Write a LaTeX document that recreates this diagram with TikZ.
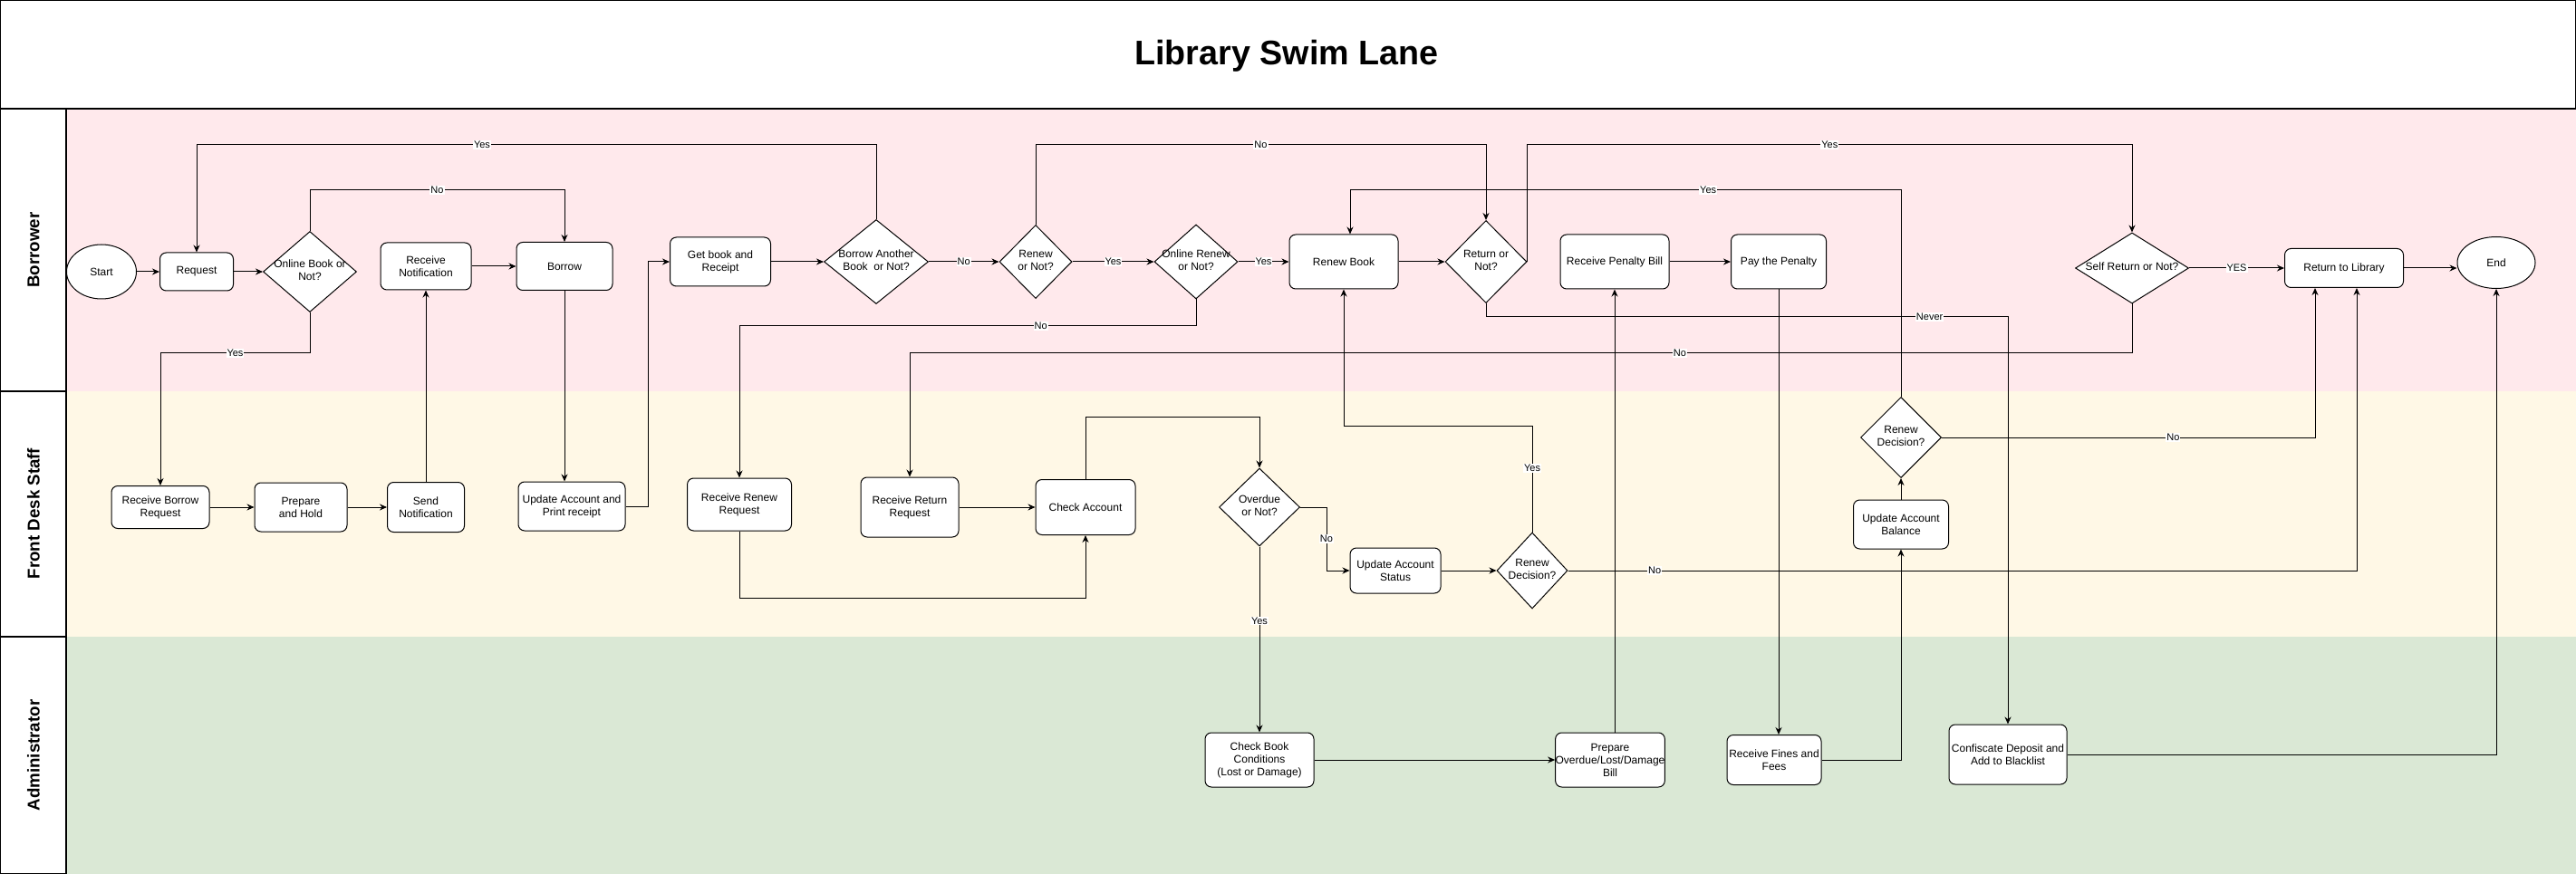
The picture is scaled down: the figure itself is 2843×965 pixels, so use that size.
\documentclass[tikz,border=0pt]{standalone}
\usepackage{fontspec}
\setmainfont{Liberation Sans}
\usepackage{tikz}
\usetikzlibrary{shapes.geometric, arrows.meta}
\definecolor{borrowbg}{HTML}{FFE9EC}
\definecolor{deskbg}{HTML}{FFF8E6}
\definecolor{adminbg}{HTML}{DAE8D5}
% text inside a diamond may run over its edges
\newcommand{\dtxt}[1]{\makebox[0pt]{\smash{\raisebox{-3pt}{\begin{tabular}{@{}c@{}}#1\end{tabular}}}}}

\begin{document}
\begin{tikzpicture}[x=1pt, y=-1pt,
  sz/.style 2 args={minimum width=#1pt, minimum height=#2pt},
  proc/.style={draw, rounded corners=7pt, fill=white, line width=1pt, inner sep=0pt, align=center, font=\fontsize{12}{14}\selectfont},
  decision/.style={draw, diamond, fill=white, line width=1pt, inner sep=0pt, font=\fontsize{12}{14}\selectfont},
  term/.style={draw, ellipse, fill=white, line width=1pt, inner sep=0pt, font=\fontsize{12}{14}\selectfont},
  arr/.style={line width=1pt, -{Stealth[length=8pt,width=7pt]}},
  lbl/.style={fill=white, inner sep=1pt, font=\fontsize{11}{13}\selectfont},
  lanehead/.style={rotate=90, font=\fontsize{18.7}{22}\selectfont\bfseries}]
\useasboundingbox (0,0) rectangle (2843,965);

% lanes
\fill[borrowbg] (73,120) rectangle (2843,432);
\fill[deskbg] (73,432) rectangle (2843,703);
\fill[adminbg] (73,703) rectangle (2843,965);
\draw[line width=1.5pt] (0,0) rectangle (2843,120);
\draw[line width=1.5pt] (0,120) rectangle (73,432);
\draw[line width=1.5pt] (0,432) rectangle (73,703);
\draw[line width=1.5pt] (0,703) rectangle (73,965);
\node[anchor=base, font=\fontsize{37.7}{40}\selectfont\bfseries] (title) at (1420,72) {Library Swim Lane};
\node[lanehead] (hborrow) at (37,276) {Borrower};
\node[lanehead] (hdesk) at (37,567) {Front Desk Staff};
\node[lanehead] (hadmin) at (37,834) {Administrator};

% Borrower
\node[term, sz={77}{60}] (start) at (112,300) {Start};
\node[proc, sz={81}{42}] (request) at (217,300) {Request};
\node[decision, sz={103}{89}] (online) at (342,300) {\dtxt{Online Book or\\Not?}};
\node[proc, sz={100}{52}] (recvnote) at (470,294) {Receive\\Notification};
\node[proc, sz={106}{53}] (borrow) at (623,294) {Borrow};
\node[proc, sz={111}{54}] (getbook) at (795,289) {Get book and\\Receipt};
\node[decision, sz={115}{93}] (another) at (967,289) {\dtxt{Borrow Another\\Book\ \ or Not?}};
\node[decision, sz={80}{81}] (renew) at (1143,289) {\dtxt{Renew\\or Not?}};
\node[decision, sz={92}{82}] (onrenew) at (1320,289) {\dtxt{Online Renew\\or Not?}};
\node[proc, sz={120}{60}] (renewbook) at (1483,289) {Renew Book};
\node[decision, sz={90}{91}] (returnq) at (1640,289) {\dtxt{Return or\\Not?}};
\node[proc, sz={120}{60}] (penbill) at (1782,289) {Receive Penalty Bill};
\node[proc, sz={105}{60}] (paypen) at (1963,289) {Pay the Penalty};
\node[decision, sz={125}{78}] (selfret) at (2353,296) {\dtxt{Self Return or Not?}};
\node[proc, sz={131}{43}] (tolib) at (2587,296) {Return to Library};
\node[term, sz={86}{57}] (end) at (2755,290) {End};

% Front Desk Staff
\node[proc, sz={108}{47}] (recvborrow) at (177,560) {Receive Borrow\\Request};
\node[proc, sz={102}{54}] (prephold) at (332,560) {Prepare\\and Hold};
\node[proc, sz={85}{55}] (sendnote) at (470,560) {Send\\Notification};
\node[proc, sz={118}{54}] (updprint) at (631,559) {Update Account and\\Print receipt};
\node[proc, sz={115}{58}] (recvrenew) at (816,557) {Receive Renew\\Request};
\node[proc, sz={108}{66}] (recvreturn) at (1004,560) {Receive Return\\Request};
\node[proc, sz={110}{61}] (checkacc) at (1198,560) {Check Account};
\node[decision, sz={89}{86}] (overdue) at (1390,560) {\dtxt{Overdue\\or Not?}};
\node[proc, sz={100}{50}] (updstatus) at (1540,630) {Update Account\\Status};
\node[decision, sz={78}{84}] (rdec1) at (1691,630) {\dtxt{Renew\\Decision?}};
\node[decision, sz={89}{89}] (rdec2) at (2098,483) {\dtxt{Renew\\Decision?}};
\node[proc, sz={105}{54}] (updbal) at (2098,579) {Update Account\\Balance};

% Administrator
\node[proc, sz={120}{60}] (checkbook) at (1390,839) {Check Book\\Conditions\\(Lost or Damage)};
\node[proc, sz={120}{60}] (prepbill) at (1777,839) {Prepare\\Overdue/Lost/Damage\\Bill};
\node[proc, sz={104}{55}] (recvfines) at (1958,839) {Receive Fines and\\Fees};
\node[proc, sz={130}{66}] (confisc) at (2216,833) {Confiscate Deposit and\\Add to Blacklist};

\coordinate (libin1) at ([xshift=-32pt]tolib.south);
\coordinate (libin2) at ([xshift=14pt]tolib.south);
\coordinate (rbin) at ([xshift=7pt]renewbook.north);

% borrowing
\draw[arr] (start) -- (request);
\draw[arr] (request) -- (online);
\draw[arr] (online.north) -- (online.north |- 0,210) -- node[lbl]{No} (borrow.north |- 0,210) -- (borrow.north);
\draw[arr] (online.south) -- (online.south |- 0,390) -- node[lbl]{Yes} (recvborrow.north |- 0,390) -- (recvborrow.north);
\draw[arr] (recvborrow) -- (prephold);
\draw[arr] (prephold) -- (sendnote);
\draw[arr] (sendnote) -- (recvnote);
\draw[arr] (recvnote) -- (borrow);
\draw[arr] (borrow.south) -- (borrow.south |- updprint.north);
\draw[arr] (updprint.east) -- ++(25,0) |- (getbook.west);
\draw[arr] (getbook) -- (another);
\draw[arr] (another.north) -- (another.north |- 0,160) -- node[lbl, pos=0.58]{Yes} (request.north |- 0,160) -- (request.north);
\draw[arr] (another) -- node[lbl]{No} (renew);

% renewing
\draw[arr] (renew) -- node[lbl]{Yes} (onrenew);
\draw[arr] (onrenew) -- node[lbl]{Yes} (renewbook);
\draw[arr] (renew.north) -- (renew.north |- 0,160) -- node[lbl]{No} (returnq.north |- 0,160) -- (returnq.north);
\draw[arr] (onrenew.south) -- (onrenew.south |- 0,360) -- node[lbl, pos=0.34]{No} (recvrenew.north |- 0,360) -- (recvrenew.north);
\draw[arr] (renewbook) -- (returnq);
\draw[arr] (recvrenew.south) -- (recvrenew.south |- 0,660) -- (checkacc.south |- 0,660) -- (checkacc.south);
\draw[arr] (recvreturn) -- (checkacc);
\draw[arr] (checkacc.north) -- (checkacc.north |- 0,460) -- (overdue.north |- 0,460) -- (overdue.north);
\draw[arr] (overdue.south) -- node[lbl, pos=0.4]{Yes} (checkbook.north);
\draw[arr] (overdue.east) -- ++(29,0) |- node[lbl, pos=0.25]{No} (updstatus.west);
\draw[arr] (updstatus) -- (rdec1);
\draw[arr] (rdec1.north) -- node[lbl, pos=0.6]{Yes} (rdec1.north |- 0,470) -| (renewbook.south);
\draw[arr] (rdec1.east) -- node[lbl, pos=0.11]{No} (libin2 |- rdec1.east) -- (libin2);

% returning
\draw[arr] (returnq.east) -- (returnq.east |- 0,160) -- node[lbl]{Yes} (selfret.north |- 0,160) -- (selfret.north);
\draw[arr] (returnq.south) -- (returnq.south |- 0,350) -- node[lbl, pos=0.85]{Never} (confisc.north |- 0,350) -- (confisc.north);
\draw[arr] (selfret) -- node[lbl]{YES} (tolib);
\draw[arr] (tolib.east) -- (tolib.east -| end.west);
\draw[arr] (selfret.south) -- (selfret.south |- 0,390) -- node[lbl, pos=0.37]{No} (recvreturn.north |- 0,390) -- (recvreturn.north);

% penalty
\draw[arr] (checkbook) -- (prepbill);
\draw[arr] (prepbill.north -| penbill.south) -- (penbill.south);
\draw[arr] (penbill) -- (paypen);
\draw[arr] (paypen.south) -- (paypen.south |- recvfines.north);
\draw[arr] (recvfines.east) -| (updbal.south);
\draw[arr] (updbal) -- (rdec2);
\draw[arr] (rdec2.north) -- (rdec2.north |- 0,210) -- node[lbl, pos=0.35]{Yes} (rbin |- 0,210) -- (rbin);
\draw[arr] (rdec2.east) -- node[lbl, pos=0.62]{No} (libin1 |- rdec2.east) -- (libin1);
\draw[arr] (confisc.east) -| (end.south);
\end{tikzpicture}
\end{document}
